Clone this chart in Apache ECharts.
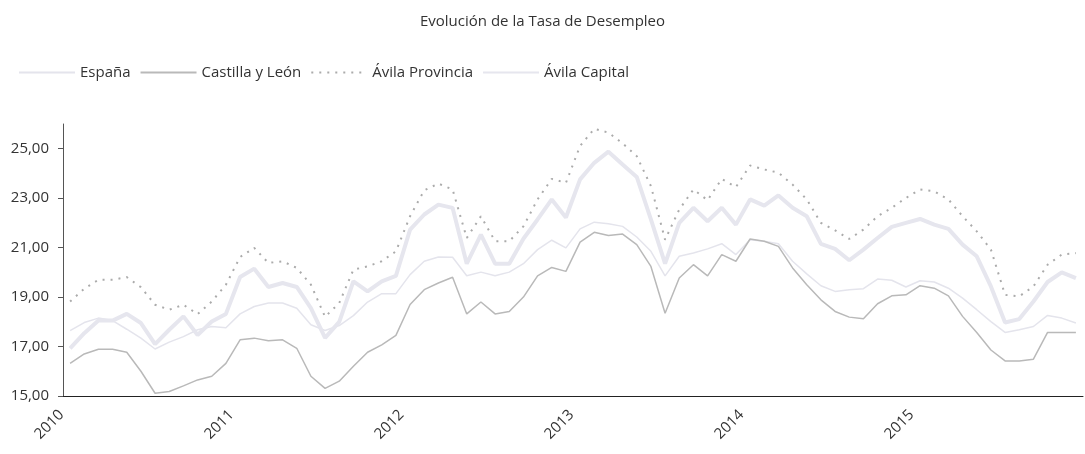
<!DOCTYPE html>
<html>
<head>
<meta charset="utf-8">
<script src="https://cdn.jsdelivr.net/npm/echarts@6/dist/echarts.min.js"></script>
<style>
  html, body { margin: 0; padding: 0; background: #fff; }
  #main { width: 1085px; height: 454px; }
</style>
</head>
<body>
<div id="main"></div>
<script>
// Datos mensuales 2010-2015 (tasa de desempleo, %)
const years = ['2010', '2011', '2012', '2013', '2014', '2015'];
const months = ['01', '02', '03', '04', '05', '06', '07', '08', '09', '10', '11', '12'];

const espana = [
    17.64, 17.97, 18.15, 18.05, 17.70, 17.34, 16.90, 17.18, 17.40, 17.68, 17.81, 17.76,
    18.32, 18.62, 18.76, 18.76, 18.55, 17.88, 17.65, 17.85, 18.25, 18.80, 19.14, 19.14,
    19.91, 20.45, 20.62, 20.61, 19.86, 20.01, 19.86, 20.01, 20.35, 20.92, 21.30, 20.99,
    21.76, 22.03, 21.97, 21.86, 21.43, 20.85, 19.86, 20.65, 20.78, 20.95, 21.16, 20.72,
    21.32, 21.26, 21.16, 20.45, 19.94, 19.46, 19.23, 19.30, 19.34, 19.73, 19.68, 19.41,
    19.66, 19.61, 19.36, 18.96, 18.49, 18.01, 17.57, 17.68, 17.81, 18.26, 18.15, 17.95
];
const castilla = [
    16.32, 16.70, 16.89, 16.89, 16.77, 16.00, 15.11, 15.18, 15.41, 15.65, 15.80, 16.32,
    17.27, 17.34, 17.23, 17.27, 16.93, 15.80, 15.31, 15.60, 16.20, 16.77, 17.07, 17.45,
    18.70, 19.30, 19.57, 19.80, 18.32, 18.80, 18.32, 18.42, 19.00, 19.86, 20.20, 20.04,
    21.22, 21.62, 21.49, 21.55, 21.12, 20.24, 18.35, 19.77, 20.31, 19.86, 20.72, 20.45,
    21.35, 21.26, 21.05, 20.18, 19.50, 18.89, 18.42, 18.19, 18.12, 18.73, 19.05, 19.09,
    19.46, 19.36, 19.05, 18.22, 17.57, 16.86, 16.42, 16.42, 16.49, 17.57, 17.57, 17.57
];
const avilaProvincia = [
    18.82, 19.34, 19.70, 19.70, 19.81, 19.40, 18.69, 18.49, 18.69, 18.31, 18.82, 19.50,
    20.62, 20.99, 20.38, 20.45, 20.18, 19.50, 18.20, 18.76, 20.11, 20.24, 20.45, 20.85,
    22.27, 23.32, 23.59, 23.35, 21.39, 22.27, 21.26, 21.26, 21.86, 22.95, 23.78, 23.62,
    25.11, 25.81, 25.65, 25.22, 24.70, 23.49, 21.32, 22.54, 23.35, 22.92, 23.78, 23.45,
    24.32, 24.16, 24.03, 23.55, 22.95, 22.00, 21.70, 21.35, 21.73, 22.27, 22.61, 23.01,
    23.35, 23.28, 22.95, 22.27, 21.66, 20.92, 19.09, 19.03, 19.43, 20.31, 20.72, 20.78
];
const avilaCapital = [
    16.93, 17.54, 18.05, 18.05, 18.32, 17.95, 17.10, 17.68, 18.22, 17.47, 18.01, 18.32,
    19.81, 20.15, 19.41, 19.57, 19.41, 18.55, 17.35, 18.00, 19.64, 19.23, 19.64, 19.86,
    21.73, 22.34, 22.74, 22.61, 20.35, 21.53, 20.35, 20.35, 21.36, 22.14, 22.95, 22.22,
    23.76, 24.43, 24.88, 24.36, 23.86, 22.14, 20.35, 22.00, 22.61, 22.07, 22.61, 21.93,
    22.95, 22.70, 23.11, 22.61, 22.27, 21.15, 20.95, 20.49, 20.92, 21.39, 21.84, 22.00,
    22.16, 21.93, 21.76, 21.12, 20.65, 19.43, 17.97, 18.11, 18.82, 19.61, 20.00, 19.77
];
const yTicks = [15, 17, 19, 21, 23, 25];

const categories = [];
years.forEach(y => months.forEach(m => categories.push(y + '-' + m)));

const font = 'Open Sans';
const myChart = echarts.init(document.getElementById('main'));

let option = {
    animation: false,
    textStyle: { fontFamily: font },
    title: {
        text: 'Evolución de la Tasa de Desempleo',
        left: 'center',
        top: 9,
        textStyle: { fontFamily: font, fontSize: 15, fontWeight: 'normal', color: '#333' }
    },
    legend: {
        left: 13,
        top: 60,
        itemWidth: 56,
        itemHeight: 14,
        itemGap: 9,
        // hide the circle symbol, keep only the line
        itemStyle: { opacity: 0 },
        textStyle: { fontFamily: font, fontSize: 15, color: '#333' },
        data: ['España', 'Castilla y León', 'Ávila Provincia', 'Ávila Capital']
    },
    grid: { left: 63, right: 2, top: 124, bottom: 58, containLabel: false },
    xAxis: {
        type: 'category',
        data: categories,
        boundaryGap: true,
        axisLine: { lineStyle: { color: '#222', width: 1 } },
        axisTick: { interval: 0, length: 5, lineStyle: { color: '#222' } },
        axisLabel: {
            interval: 11,
            rotate: 45,
            margin: 8,
            padding: [0, 12, 0, 0],
            fontSize: 15,
            color: '#333',
            formatter: v => v.slice(0, 4)
        },
        splitLine: { show: false }
    },
    yAxis: {
        type: 'value',
        min: 15,
        max: 26,
        axisLine: { show: true, lineStyle: { color: '#555' } },
        axisTick: { show: true, length: 5, customValues: yTicks, lineStyle: { color: '#555' } },
        axisLabel: {
            customValues: yTicks,
            fontSize: 15,
            color: '#333',
            margin: 14,
            formatter: v => v.toFixed(2).replace('.', ',')
        },
        splitLine: { show: false }
    },
    series: [
        {
            name: 'España', type: 'line', data: espana, symbol: 'none',
            lineStyle: { color: '#e4e4ec', width: 1.5 }, itemStyle: { color: '#e4e4ec' }
        },
        {
            name: 'Castilla y León', type: 'line', data: castilla, symbol: 'none',
            lineStyle: { color: '#b9b9b9', width: 1.5 }, itemStyle: { color: '#b9b9b9' }
        },
        {
            name: 'Ávila Provincia', type: 'line', data: avilaProvincia, symbol: 'none',
            lineStyle: { color: '#ababab', width: 2, type: [2, 6] }, itemStyle: { color: '#ababab' }
        },
        {
            name: 'Ávila Capital', type: 'line', data: avilaCapital, symbol: 'none',
            lineStyle: { color: '#e6e6ee', width: 4 }, itemStyle: { color: '#e6e6ee' }
        }
    ]
};

option && myChart.setOption(option);
</script>
</body>
</html>
